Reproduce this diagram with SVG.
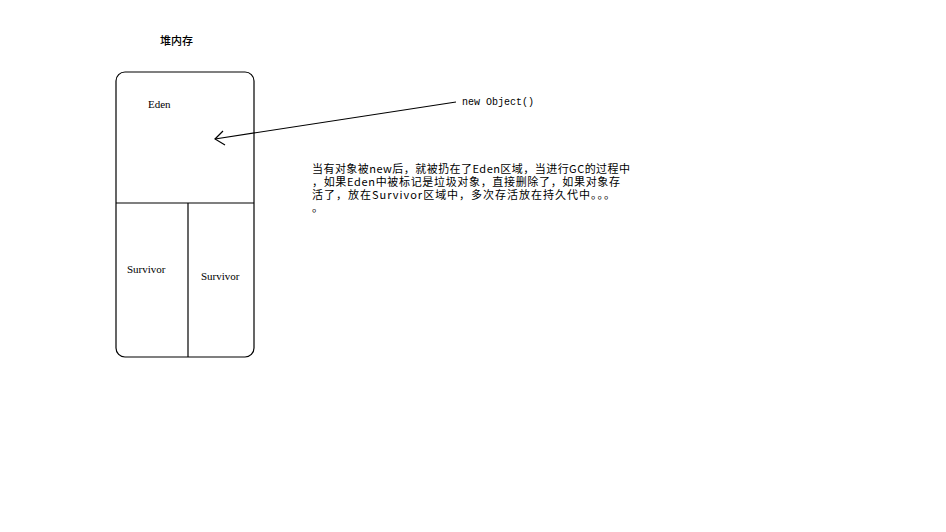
<svg xmlns="http://www.w3.org/2000/svg" width="946" height="532" viewBox="0 0 946 532">
<style>
.ln{fill:none;stroke:#000;stroke-width:1.2}
.lbl{font-family:"Liberation Serif",serif;font-size:11px;fill:#000}
.cjk{font-family:"Noto Sans CJK SC",sans-serif;font-size:11px;fill:#000}
.mono{font-family:"Liberation Mono",monospace;font-size:10px;fill:#000}
</style>
<rect width="946" height="532" fill="#fff"/>
<text class="cjk" x="160" y="45" font-weight="500" font-size="12">堆内存</text>
<g id="heap">
<rect class="ln" x="116" y="72" width="138" height="285" rx="9"/>
<line class="ln" x1="116" y1="203" x2="254" y2="203"/>
</g>
<g id="eden"><text class="lbl" x="148" y="108">Eden</text></g>
<g id="survivor1"><line class="ln" x1="188" y1="203" x2="188" y2="357"/><text class="lbl" x="127" y="273">Survivor</text></g>
<g id="survivor2"><text class="lbl" x="201" y="280">Survivor</text></g>
<g id="newobj"><text class="mono" x="462" y="105">new Object()</text></g>
<g id="connectors">
<line class="ln" x1="456" y1="102" x2="215" y2="139"/>
<polyline class="ln" points="223,131 215,139 225,145"/>
</g>
<g id="note">
<text class="cjk"><tspan x="312" y="173" textLength="318">当有对象被new后，就被扔在了Eden区域，当进行GC的过程中</tspan><tspan x="312" y="186" textLength="308">，如果Eden中被标记是垃圾对象，直接删除了，如果对象存</tspan><tspan x="312" y="199" textLength="303">活了，放在Survivor区域中，多次存活放在持久代中。。。</tspan><tspan x="312" y="212">。</tspan></text>
</g>
</svg>
